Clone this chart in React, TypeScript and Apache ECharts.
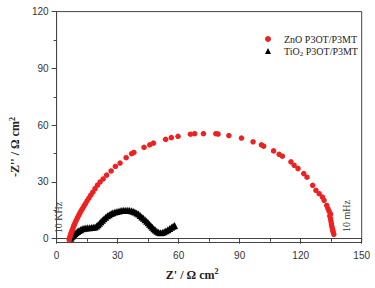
import React, { useEffect, useRef } from 'react';
import * as echarts from 'echarts';

const xTickValues = [0, 30, 60, 90, 120, 150];
const yTickValues = [0, 30, 60, 90, 120];
const yMinorTickValues = [15, 45, 75, 105];
const seriesNames = ['ZnO P3OT/P3MT', 'TiO2 P3OT/P3MT'];
const annotationLabels = ['10 KHz', '10 mHz'];

const znoData: [number, number][] = [
  [6.2, -0.6], [6.4, 0.4], [6.7, 1.4], [7.0, 2.4], [7.3, 3.4], [7.6, 4.4], [8.0, 5.5],
  [8.4, 6.6], [8.8, 7.7], [9.3, 8.9], [9.8, 10.0], [10.3, 11.2], [10.9, 12.4], [11.5, 13.6],
  [12.1, 14.8], [12.8, 16.0], [13.5, 17.3], [14.2, 18.6], [15.0, 20.0], [15.9, 21.5],
  [16.8, 23.0], [17.8, 24.6], [18.9, 26.4], [20.1, 28.3], [21.4, 30.0], [22.9, 31.6],
  [24.6, 33.6], [26.8, 35.8], [28.9, 38.2], [31.2, 40.0], [34.2, 42.8], [36.9, 44.9],
  [38.0, 45.6], [43.0, 48.3], [45.8, 49.6], [47.6, 50.5], [53.6, 52.5], [56.4, 53.4],
  [59.7, 54.1], [65.8, 55.2], [67.9, 55.5], [72.2, 55.5], [78.3, 55.5], [79.4, 55.3],
  [84.7, 54.5], [90.9, 53.2], [96.6, 51.2], [100.7, 49.6], [101.8, 48.9], [106.7, 46.4],
  [109.4, 44.6], [111.0, 43.6], [115.2, 40.6], [116.8, 38.8], [118.7, 37.1], [121.5, 34.4],
  [123.1, 32.5], [125.9, 28.2], [127.5, 25.6], [129.1, 23.8], [130.7, 22.0], [131.5, 20.3],
  [132.8, 17.6], [133.4, 15.9], [134.0, 14.4], [134.3, 12.0], [134.7, 13.0], [134.7, 10.6],
  [134.9, 9.2], [135.1, 7.9], [135.3, 6.6], [135.6, 5.3], [135.8, 4.4], [136.0, 3.5], [136.3, 2.3]
];

const tioData: [number, number][] = [
  [7.0, 0.3], [7.4, 1.0], [7.9, 1.6], [8.4, 2.2], [9.0, 2.8], [9.6, 3.3], [10.3, 3.8],
  [11.0, 4.3], [11.8, 4.8], [12.6, 5.2], [13.5, 5.5], [14.4, 5.7], [15.3, 5.8], [16.2, 5.8],
  [17.1, 5.9], [18.0, 6.0], [18.9, 6.2], [19.7, 6.7], [20.4, 7.4], [21.1, 8.2], [21.8, 9.0],
  [22.5, 9.8], [23.3, 10.6], [24.1, 11.4], [25.0, 12.1], [25.9, 12.7], [26.8, 13.3],
  [27.7, 13.7], [28.7, 14.1], [29.7, 14.4], [30.7, 14.7], [31.7, 14.9], [32.7, 15.0],
  [33.7, 15.1], [34.7, 15.1], [35.7, 15.0], [36.7, 14.8], [37.6, 14.5], [38.5, 14.1],
  [39.4, 13.6], [40.3, 13.0], [41.1, 12.3], [41.9, 11.5], [42.7, 10.8], [43.5, 10.0],
  [44.3, 9.2], [45.0, 8.4], [45.7, 7.6], [46.4, 6.9], [47.1, 6.1], [47.8, 5.3], [48.5, 4.6],
  [49.3, 3.9], [50.2, 3.4], [51.1, 3.2], [52.0, 3.3], [52.9, 3.7], [53.8, 4.2], [54.7, 4.8],
  [55.6, 5.4], [56.5, 6.0], [57.3, 6.6], [58.0, 7.0]
];

const serif = '"Liberation Serif", "Times New Roman", serif';
const sans = '"Liberation Sans", Arial, sans-serif';
const axisColor = '#444';

export default function App() {
  const ref = useRef<HTMLDivElement>(null);
  useEffect(() => {
    const chart = echarts.init(ref.current!, null, { renderer: 'svg' });
    chart.setOption({
      animation: false,
      backgroundColor: '#fff',
      grid: {
        left: 49, right: 13.3, top: 11.6, bottom: 45.5,
        show: true, borderColor: axisColor, borderWidth: 1, backgroundColor: 'transparent'
      },
      legend: {
        data: seriesNames,
        orient: 'vertical',
        left: 260,
        top: 28,
        itemWidth: 6,
        itemHeight: 6,
        itemGap: 0,
        symbolKeepAspect: true,
        formatter: (name: string) =>
          name === seriesNames[1] ? '{g|}{a|TiO}{s|2}{a| P3OT/P3MT}' : '{g|}{a|' + name + '}',
        textStyle: {
          rich: {
            g: { width: 8 },
            a: { fontFamily: serif, fontSize: 10, color: '#222', lineHeight: 12 },
            s: { fontFamily: serif, fontSize: 7, color: '#222', lineHeight: 12, verticalAlign: 'bottom', padding: [5, 0, 0, 0] }
          }
        }
      },
      xAxis: {
        type: 'value',
        min: 0, max: 150, interval: 30,
        name: "{b|Z' / Ω cm}{sup|2}",
        nameLocation: 'middle',
        nameGap: 25,
        nameTextStyle: {
          padding: [0, 34, 0, 0],
          rich: {
            b: { fontFamily: serif, fontWeight: 'bold', fontSize: 12, color: '#222' },
            sup: { fontFamily: serif, fontWeight: 'bold', fontSize: 8, color: '#222', verticalAlign: 'top', padding: [0, 0, 6, 0] }
          }
        },
        axisLine: { lineStyle: { color: axisColor, width: 1 } },
        axisTick: { length: 5, lineStyle: { color: axisColor } },
        minorTick: { show: true, splitNumber: 2, length: 3, lineStyle: { color: axisColor } },
        axisLabel: { fontFamily: sans, fontSize: 10, color: '#333', margin: 8, customValues: xTickValues },
        splitLine: { show: false }
      },
      yAxis: [
        {
          type: 'value',
          min: -2, max: 120,
          position: 'left',
          name: "{b|-Z'' / Ω cm}{sup|2}",
          nameLocation: 'middle',
          nameGap: 30,
          nameTextStyle: {
            padding: [0, 40, 0, 0],
            rich: {
              b: { fontFamily: serif, fontWeight: 'bold', fontSize: 12, color: '#222' },
              sup: { fontFamily: serif, fontWeight: 'bold', fontSize: 8, color: '#222', verticalAlign: 'top', padding: [0, 0, 6, 0] }
            }
          },
          axisLine: { show: true, lineStyle: { color: axisColor, width: 1 } },
          axisTick: { show: true, length: 5, customValues: yTickValues, lineStyle: { color: axisColor } },
          axisLabel: { fontFamily: sans, fontSize: 10, color: '#333', margin: 8, customValues: yTickValues },
          splitLine: { show: false }
        },
        {
          type: 'value',
          min: -2, max: 120,
          position: 'left',
          axisLine: { show: false },
          axisTick: { show: true, length: 3, customValues: yMinorTickValues, lineStyle: { color: axisColor } },
          axisLabel: { show: false },
          splitLine: { show: false }
        }
      ],
      series: [
        {
          name: seriesNames[1],
          type: 'scatter',
          symbol: 'triangle',
          symbolSize: 7,
          symbolKeepAspect: true,
          itemStyle: { color: '#000', opacity: 1 },
          data: tioData
        },
        {
          name: seriesNames[0],
          type: 'scatter',
          symbol: 'circle',
          symbolSize: 5.5,
          itemStyle: { color: '#ee2020', opacity: 1 },
          data: znoData
        }
      ],
      graphic: [
        {
          type: 'text', x: 58, y: 217.5, rotation: Math.PI / 2,
          style: { text: annotationLabels[0], font: '10px ' + serif, fill: '#333', align: 'center', verticalAlign: 'middle' }
        },
        {
          type: 'text', x: 346.5, y: 216, rotation: Math.PI / 2,
          style: { text: annotationLabels[1], font: '10px ' + serif, fill: '#333', align: 'center', verticalAlign: 'middle' }
        }
      ]
    });
    return () => chart.dispose();
  }, []);
  return <div ref={ref} style={{ position: 'absolute', left: 0, top: 0, width: 375, height: 288 }} />;
}
